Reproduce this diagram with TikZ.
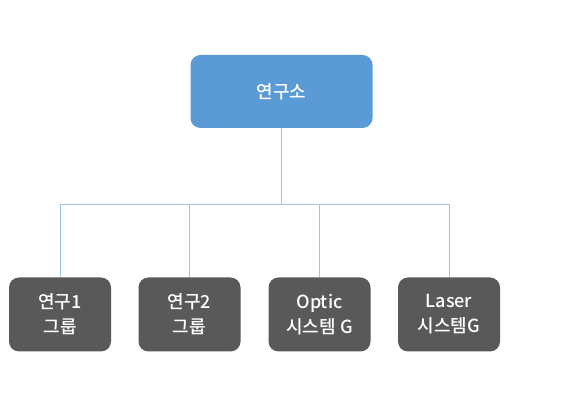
\documentclass[tikz,border=0pt]{standalone}
\usepackage{fontspec}
\setmainfont{Noto Sans CJK KR}[UprightFont={* Medium}]
\usetikzlibrary{positioning}
\definecolor{topblue}{RGB}{91,155,213}
\definecolor{boxgray}{RGB}{89,89,89}
\definecolor{linkblue}{RGB}{157,195,230}
\tikzset{
  labbox/.style={rounded corners=10pt, fill=topblue, text=white,
    minimum width=182pt, minimum height=73pt, font=\fontsize{18}{25}\selectfont},
  grpbox/.style={rounded corners=10pt, fill=boxgray, text=white, align=center,
    minimum width=102pt, minimum height=74pt, font=\fontsize{18}{25}\selectfont},
  link/.style={draw=linkblue, line width=0.9pt}
}

\begin{document}
\begin{tikzpicture}[x=1pt, y=1pt]

  \newcommand\R{91.5}
  \newcommand\B{201.7}

  \useasboundingbox[fill=white] (0,0) rectangle (583,406);

  \node[labbox] (lab) at (281.5, 314.5) {연구소};

  \node[grpbox] (g1) at (60, \R) {연구1\\그룹};
  \node[grpbox] (g2) at (189.5, \R) {연구2\\그룹};
  \node[grpbox] (g3) at (319.5, \R) {Optic\\시스템 G};
  \node[grpbox] (g4) at (449, \R) {Laser\\시스템G};

  \coordinate (bus) at (0, \B);

  \draw[link] (lab.south) -- (lab.south |- bus); %% lab bus
  \draw[link] (g1.north) -- (g1.north |- bus) -- (g4.north |- bus) -- (g4.north); %% g1 g4
  \draw[link] (g2.north) -- (g2.north |- bus); %% g2
  \draw[link] (g3.north) -- (g3.north |- bus); %% g3

\end{tikzpicture}
\end{document}
